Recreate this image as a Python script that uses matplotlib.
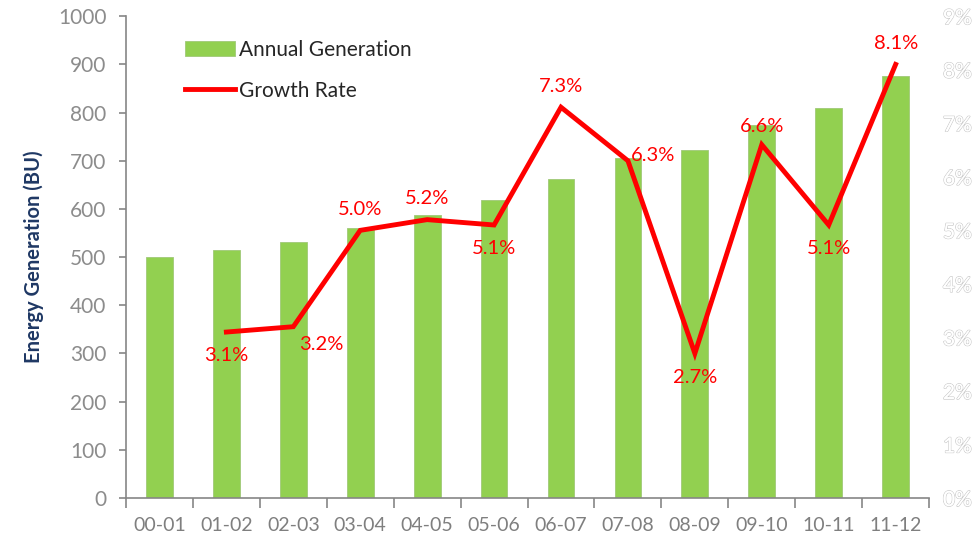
import numpy as np
import matplotlib
matplotlib.use("Agg")
import matplotlib.pyplot as plt
import matplotlib.patheffects as pe
from matplotlib.ticker import FixedLocator, NullFormatter

plt.rcParams['font.family'] = ['Lato', 'DejaVu Sans']

years = ['00-01', '01-02', '02-03', '03-04', '04-05', '05-06',
         '06-07', '07-08', '08-09', '09-10', '10-11', '11-12']
generation = [500, 515, 532, 560, 587, 618, 662, 705, 722, 774, 809, 876]
growth = [None, 3.1, 3.2, 5.0, 5.2, 5.1, 7.3, 6.3, 2.7, 6.6, 5.1, 8.1]
# label offsets (points) for each growth label
label_offsets = [None, (0, -17), (20, -13), (0, 15), (0, 15), (0, -17),
                 (0, 15), (18, 4), (0, -17), (0, 13), (0, -17), (0, 15)]

fig = plt.figure(figsize=(9.78, 5.41), dpi=100)
ax = fig.add_axes([0.1288, 0.0795, 0.8212, 0.8905])
x = np.arange(len(years))

ax.bar(x, generation, width=0.4, color='#92d050', edgecolor='#a0c878',
       linewidth=0.6, label='Annual Generation', zorder=2)
ax.set_xlim(-0.5, len(years) - 0.5)
ax.set_ylim(0, 1000)
ax.set_yticks(np.arange(0, 1001, 100))
ax.set_xticks(x)
ax.set_xticklabels(years)
ax.xaxis.set_minor_locator(FixedLocator(np.arange(-0.5, len(years), 1)))
ax.xaxis.set_minor_formatter(NullFormatter())
ax.tick_params(axis='x', which='major', length=0, pad=14, labelsize=14,
               labelcolor='#7f7f7f')
ax.tick_params(axis='x', which='minor', length=7, color='#868686', width=1.2)
ax.tick_params(axis='y', length=5, color='#868686', width=1.2, labelsize=15,
               labelcolor='#8c8c8c', pad=9)
for s in ['top', 'right']:
    ax.spines[s].set_visible(False)
for s in ['left', 'bottom']:
    ax.spines[s].set_color('#868686')
    ax.spines[s].set_linewidth(1.2)
ax.set_ylabel('Energy Generation (BU)', fontsize=14.5, fontweight='bold',
              color='#1f3864', labelpad=10)

ax2 = ax.twinx()
gx = [i for i, g in enumerate(growth) if g is not None]
gy = [g for g in growth if g is not None]
ax2.plot(gx, gy, color='#ff0000', linewidth=3.5, label='Growth Rate',
         solid_joinstyle='miter', zorder=3)
ax2.set_ylim(0, 9)
ax2.set_yticks(np.arange(0, 10, 1))
ax2.set_yticklabels([f'{i}%' for i in range(10)])
ax2.tick_params(axis='y', length=0, labelsize=15, pad=10, labelcolor='white')
for lbl in ax2.get_yticklabels():
    lbl.set_path_effects([pe.withStroke(linewidth=1.0, foreground='#c8c8c8'),
                          pe.Normal()])
for s in ax2.spines.values():
    s.set_visible(False)

for i, g in enumerate(growth):
    if g is None:
        continue
    ax2.annotate(f'{g:.1f}%', (i, g), xytext=label_offsets[i],
                 textcoords='offset points', ha='center', va='center',
                 color='#ff0000', fontsize=14.5)

h1, l1 = ax.get_legend_handles_labels()
h2, l2 = ax2.get_legend_handles_labels()
leg = ax.legend(h1 + h2, l1 + l2, loc='upper left', bbox_to_anchor=(0.05, 0.99),
                frameon=False, fontsize=15, handlelength=2.4, handletextpad=0.2,
                labelspacing=1.0)
for t in leg.get_texts():
    t.set_color('#262626')

fig.savefig('out.png', dpi=100)
